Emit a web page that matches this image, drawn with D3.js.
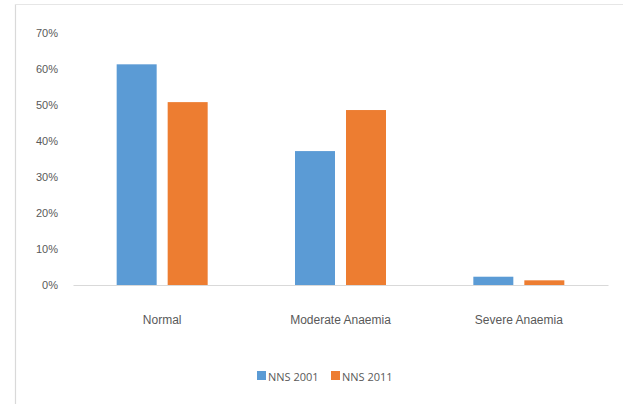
<!DOCTYPE html>
<html>
<head>
<meta charset="utf-8">
<script src="https://cdn.jsdelivr.net/npm/d3@7"></script>
<style>
  html, body { margin: 0; padding: 0; background: #fff; }
  svg { display: block; }
  text { font-family: "Liberation Sans Narrow", "Open Sans", sans-serif; fill: #595959; }
</style>
</head>
<body>
<svg id="chart" width="623" height="404"></svg>
<script>
// Anaemia status by survey round
const categories = ["Normal", "Moderate Anaemia", "Severe Anaemia"];
const seriesNames = ["NNS 2001", "NNS 2011"];
const nns2001 = [61.3, 37.2, 2.3];
const nns2011 = [50.8, 48.6, 1.3];
const yTicks = [0, 10, 20, 30, 40, 50, 60, 70];
const colors = ["#5b9bd5", "#ed7d31"];

const series = [nns2001, nns2011];
const svg = d3.select("#chart");

const plot = { left: 73, right: 608, top: 33, bottom: 285 };

// chart frame (left and top edge of the chart area)
svg.append("line").attr("x1", 15.5).attr("x2", 15.5).attr("y1", 4).attr("y2", 404)
  .attr("stroke", "#d9d9d9").attr("stroke-width", 1.2);
svg.append("line").attr("x1", 15).attr("x2", 623).attr("y1", 4.5).attr("y2", 4.5)
  .attr("stroke", "#e6e6e6").attr("stroke-width", 1);

const x = d3.scaleBand().domain(categories).range([plot.left, plot.right]);
const groupW = 91;
const pad = (x.bandwidth() - groupW) / 2;
const xInner = d3.scaleBand().domain(d3.range(series.length))
  .range([pad, pad + groupW]).paddingInner(11 / 51).paddingOuter(0);
const y = d3.scaleLinear().domain([0, 70]).range([plot.bottom, plot.top]);

// y-axis tick labels
const yAxis = d3.axisLeft(y).tickValues(yTicks).tickFormat(d => d + "%").tickSize(0).tickPadding(0);
const gy = svg.append("g").attr("transform", `translate(${plot.left - 15},0)`).call(yAxis);
gy.select(".domain").remove();
gy.selectAll("text").attr("font-size", 11).attr("fill", "#595959")
  .style("font-family", '"Liberation Sans Narrow", sans-serif');

// bars
series.forEach((vals, si) => {
  svg.append("g").selectAll("rect").data(vals).join("rect")
    .attr("x", (d, i) => x(categories[i]) + xInner(si))
    .attr("width", xInner.bandwidth())
    .attr("y", d => y(d))
    .attr("height", d => y(0) - y(d))
    .attr("fill", colors[si]);
});

// category axis
const xAxis = d3.axisBottom(x).tickSize(0).tickPadding(0);
const gx = svg.append("g").attr("transform", `translate(0,${plot.bottom})`).call(xAxis);
gx.select(".domain").attr("stroke", "#d9d9d9").attr("stroke-width", 1.2);
gx.selectAll("text").attr("font-size", 12).attr("fill", "#595959").attr("dy", "0")
  .attr("y", 39).style("font-family", '"Liberation Sans Narrow", sans-serif');

// legend
const legend = svg.append("g").attr("transform", "translate(257,376)");
const legendX = [0, 74];
seriesNames.forEach((name, i) => {
  const g = legend.append("g").attr("transform", `translate(${legendX[i]},0)`);
  g.append("rect").attr("x", 0).attr("y", -5).attr("width", 9).attr("height", 9).attr("fill", colors[i]);
  g.append("text").attr("x", 11).attr("y", 4.5).attr("font-size", 11).text(name);
});
</script>
</body>
</html>
